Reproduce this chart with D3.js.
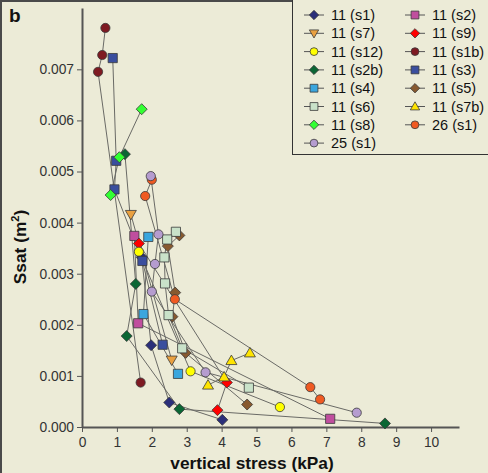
<!DOCTYPE html>
<html><head><meta charset="utf-8">
<script src="https://cdn.jsdelivr.net/npm/d3@7"></script>
<style>
html,body{margin:0;padding:0;background:#ECEBD7;}
svg{display:block;}
text{font-family:"Liberation Sans",Arial,sans-serif;}
</style></head>
<body>
<script>
// ---- data: [vertical stress (kPa), Ssat (m^2)] ----
const s11_s1  = [[1.71,0.00332],[1.98,0.00160],[2.50,0.00048],[4.02,0.00014]];
const s11_s2  = [[1.50,0.00374],[1.61,0.00203],[7.11,0.00016]];
const s11_s7  = [[1.40,0.00416],[2.57,0.00131]];
const s11_s9  = [[1.63,0.00359],[4.15,0.00087],[3.88,0.00033]];
const s11_s12 = [[1.63,0.00343],[3.11,0.00109],[5.67,0.00039]];
const s11_s1b = [[0.67,0.00781],[0.58,0.00728],[0.46,0.00695],[1.68,0.00087]];
const s11_s2b = [[1.23,0.00534],[1.54,0.00280],[1.28,0.00178],[2.79,0.00035],[8.68,0.00007]];
const s11_s3  = [[0.88,0.00722],[0.98,0.00521],[0.93,0.00465],[1.73,0.00325],[2.31,0.00161]];
const s11_s4  = [[1.90,0.00372],[1.76,0.00221],[2.75,0.00104]];
const s11_s5  = [[2.79,0.00375],[2.46,0.00354],[2.67,0.00263],[2.59,0.00216],[2.97,0.00145],[4.73,0.00044]];
const s11_s6  = [[2.69,0.00382],[2.44,0.00367],[2.36,0.00332],[2.38,0.00281],[2.48,0.00219],[2.87,0.00154],[4.78,0.00077]];
const s11_s7b = [[3.61,0.00082],[4.07,0.00098],[4.28,0.00130],[4.81,0.00145]];
const s11_s8  = [[1.71,0.00622],[1.07,0.00528],[0.82,0.00454]];
const s26_s1  = [[2.00,0.00484],[1.81,0.00452],[2.66,0.00250],[6.54,0.00078],[6.82,0.00054]];
const s25_s1  = [[1.97,0.00491],[2.19,0.00377],[2.09,0.00319],[2.00,0.00265],[3.54,0.00107],[7.87,0.00028]];

const seriesNames = ["11 (s1)","11 (s2)","11 (s7)","11 (s9)","11 (s12)","11 (s1b)","11 (s2b)","11 (s3)",
                     "11 (s4)","11 (s5)","11 (s6)","11 (s7b)","11 (s8)","26 (s1)","25 (s1)"];
const seriesData = [s11_s1,s11_s2,s11_s7,s11_s9,s11_s12,s11_s1b,s11_s2b,s11_s3,s11_s4,s11_s5,s11_s6,s11_s7b,s11_s8,s26_s1,s25_s1];
const seriesShape = ["diamond","square","tridown","diamond","circle","circle","diamond","square",
                     "square","diamond","square","triup","diamond","circle","circle"];
const seriesColor = ["#2B2F7A","#C04E9E","#E9A040","#FF0000","#FFFF00","#7E1A22","#0B6634","#3A4E9E",
                     "#3AA6DE","#87592F","#C9E2C9","#FFE400","#33FF33","#F05A22","#B59CCF"];
const xTicks = [0,1,2,3,4,5,6,7,8,9,10];
const yTicks = [0,0.001,0.002,0.003,0.004,0.005,0.006,0.007];
const legendOrder = [0,1,2,3,4,5,6,7,8,9,10,11,12,13,14];

const W = 488, H = 473;
const svg = d3.select("body").append("svg").attr("width",W).attr("height",H);
svg.append("rect").attr("width",W).attr("height",H).attr("fill","#ECEBD7");
// frame (left/top)
svg.append("path").attr("d",`M1,${H} L1,1 L${W},1`).attr("fill","none").attr("stroke","#4a4a4a").attr("stroke-width",2);

const x = d3.scaleLinear().domain([0,10.8]).range([82,459]);
const y = d3.scaleLinear().domain([0,0.0082]).range([427,8]);

function markerPath(shape, s){
  const k = s;
  switch(shape){
    case "diamond": return `M0,${-5.5*k}L${5.5*k},0L0,${5.5*k}L${-5.5*k},0Z`;
    case "square": return `M${-4.6*k},${-4.6*k}h${9.2*k}v${9.2*k}h${-9.2*k}Z`;
    case "circle": { const r=4.6*k; return `M${r},0A${r},${r} 0 1,1 ${-r},0A${r},${r} 0 1,1 ${r},0Z`; }
    case "triup": return `M0,${-5.5*k}L${5.5*k},${4*k}L${-5.5*k},${4*k}Z`;
    case "tridown": return `M0,${5.5*k}L${5.5*k},${-4*k}L${-5.5*k},${-4*k}Z`;
  }
}

// axes
const gx = svg.append("g").attr("transform","translate(0,427)")
  .call(d3.axisBottom(x).tickValues(xTicks).tickFormat(d3.format("d")).tickSize(5).tickSizeOuter(0));
const gy = svg.append("g").attr("transform","translate(82,0)")
  .call(d3.axisLeft(y).tickValues(yTicks).tickFormat(d3.format(".3f")).tickSize(5).tickSizeOuter(0));
[gx,gy].forEach(g=>{
  g.select(".domain").attr("stroke","#555").attr("stroke-width",2);
  g.selectAll(".tick line").attr("stroke","#555").attr("stroke-width",1);
  g.selectAll(".tick text").attr("fill","#333").attr("font-size",13.8).attr("font-family","Liberation Sans, Arial, sans-serif");
});
gx.selectAll(".tick text").attr("dy","0.85em");

// axis titles
svg.append("text").attr("x",252).attr("y",469).attr("text-anchor","middle")
  .attr("font-weight","bold").attr("font-size",17.3).attr("fill","#111").text("vertical stress (kPa)");
const yt = svg.append("text").attr("transform","translate(26,247) rotate(-90)").attr("text-anchor","middle")
  .attr("font-weight","bold").attr("font-size",17.3).attr("fill","#111");
yt.append("tspan").text("Ssat (m");
yt.append("tspan").attr("font-size",11).attr("dy",-7).text("2");
yt.append("tspan").attr("dy",7).text(")");
svg.append("text").attr("x",9).attr("y",22).attr("font-weight","bold").attr("font-size",19).attr("fill","#111").text("b");

// lines
const line = d3.line().x(d=>x(d[0])).y(d=>y(d[1]));
const plot = svg.append("g");
seriesData.forEach((data,i)=>{
  plot.append("path").attr("d",line(data)).attr("fill","none").attr("stroke","#6a6a66").attr("stroke-width",1);
});
seriesData.forEach((data,i)=>{
  plot.selectAll(null).data(data).enter().append("path")
    .attr("transform",d=>`translate(${x(d[0])},${y(d[1])})`)
    .attr("d",markerPath(seriesShape[i],1))
    .attr("fill",seriesColor[i]).attr("stroke","#3a3a3a").attr("stroke-width",0.8);
});

// legend
const lg = svg.append("g");
lg.append("rect").attr("x",292.5).attr("y",-2).attr("width",200).attr("height",156.5)
  .attr("fill","#ECEBD7").attr("stroke","#333").attr("stroke-width",1);
legendOrder.forEach((idx,j)=>{
  const col = j%2, row = Math.floor(j/2);
  const cx = col===0 ? 314 : 415;
  const cy = 15 + row*18.3;
  lg.append("line").attr("x1",cx-10).attr("x2",cx+10).attr("y1",cy).attr("y2",cy).attr("stroke","#555").attr("stroke-width",1);
  lg.append("path").attr("transform",`translate(${cx},${cy})`).attr("d",markerPath(seriesShape[idx],0.85))
    .attr("fill",seriesColor[idx]).attr("stroke","#3a3a3a").attr("stroke-width",0.8);
  lg.append("text").attr("x",cx+17).attr("y",cy+5).attr("font-size",14.5).attr("fill","#111").text(seriesNames[idx]);
});
</script>
</body></html>
